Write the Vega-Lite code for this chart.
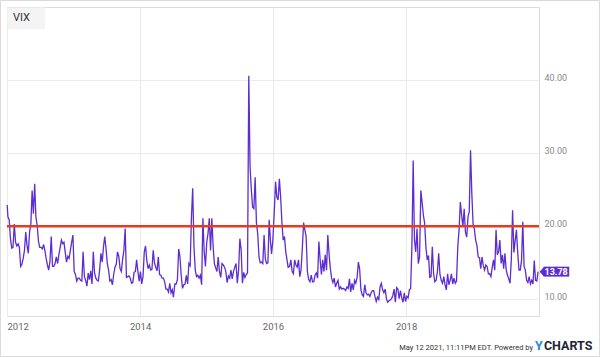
{
"$schema": "https://vega.github.io/schema/vega-lite/v6.json",
"width": 532, "height": 309,
"autosize": {"type": "none"},
"padding": {"left": 7, "top": 7, "right": 61, "bottom": 41},
"background": "white",
"config": {"view": {"stroke": "#dcdcdc", "strokeWidth": 1}, "font": "Roboto"},
"layer": [
{"data": {"values": [{}]}, "mark": {"type": "rect", "fillOpacity": 0, "stroke": "#d9d9d9", "strokeWidth": 1},
 "encoding": {"x": {"datum": {"year": 2011, "month": 11, "date": 26}, "type": "temporal"}, "x2": {"datum": {"year": 2020, "month": 11, "date": 28}},
  "y": {"datum": 50.89, "type": "quantitative"}, "y2": {"datum": 2.19}}},
{"data": {"values": [{}]}, "mark": {"type": "rect", "color": "#f4f4f4"},
 "encoding": {"x": {"datum": {"year": 2012, "month": 1, "date": 4}, "type": "temporal"}, "x2": {"datum": {"year": 2012, "month": 7, "date": 27}},
  "y": {"datum": 49.93, "type": "quantitative"}, "y2": {"datum": 46.99}}},
{"data": {"values": [{"label": "VIX"}]}, "mark": {"type": "text", "align": "left", "baseline": "middle", "fontSize": 11, "color": "#333333"},
 "encoding": {"x": {"datum": {"year": 2012, "month": 2, "date": 3}, "type": "temporal"}, "y": {"datum": 48.45, "type": "quantitative"}, "text": {"field": "label"}}},
{"data": {"values": [
{"d":"2012-01-02","v":22.9},{"d":"2012-01-06","v":21.3},{"d":"2012-01-13","v":20.9},{"d":"2012-01-20","v":18.3},{"d":"2012-01-27","v":17.0},{"d":"2012-02-03","v":17.1},{"d":"2012-02-10","v":20.3},{"d":"2012-02-17","v":17.8},{"d":"2012-02-24","v":17.3},{"d":"2012-03-02","v":17.6},{"d":"2012-03-09","v":17.1},{"d":"2012-03-16","v":14.5},{"d":"2012-03-23","v":14.8},{"d":"2012-03-30","v":15.6},{"d":"2012-04-06","v":16.7},{"d":"2012-04-13","v":19.2},{"d":"2012-04-20","v":17.4},{"d":"2012-04-27","v":16.3},{"d":"2012-05-04","v":19.2},{"d":"2012-05-11","v":20.3},{"d":"2012-05-18","v":24.9},{"d":"2012-05-25","v":21.7},{"d":"2012-06-01","v":25.8},{"d":"2012-06-08","v":21.2},{"d":"2012-06-15","v":20.1},{"d":"2012-06-22","v":17.9},{"d":"2012-06-29","v":17.1},{"d":"2012-07-06","v":17.1},{"d":"2012-07-13","v":16.9},{"d":"2012-07-20","v":17.5},{"d":"2012-07-27","v":16.7},{"d":"2012-08-03","v":15.6},{"d":"2012-08-10","v":14.7},{"d":"2012-08-17","v":14.0},{"d":"2012-08-24","v":15.2},{"d":"2012-08-31","v":18.6},{"d":"2012-09-07","v":14.5},{"d":"2012-09-14","v":14.5},{"d":"2012-09-21","v":14.9},{"d":"2012-09-28","v":15.8},{"d":"2012-10-05","v":14.9},{"d":"2012-10-12","v":16.1},{"d":"2012-10-19","v":17.1},{"d":"2012-10-26","v":18.1},{"d":"2012-11-02","v":17.6},{"d":"2012-11-09","v":17.8},{"d":"2012-11-16","v":16.4},{"d":"2012-11-23","v":15.1},{"d":"2012-11-30","v":15.9},{"d":"2012-12-07","v":15.6},{"d":"2012-12-14","v":16.7},{"d":"2012-12-21","v":17.8},{"d":"2012-12-28","v":18.8},
{"d":"2013-01-04","v":13.8},{"d":"2013-01-11","v":13.4},{"d":"2013-01-18","v":12.5},{"d":"2013-01-25","v":12.9},{"d":"2013-02-01","v":12.9},{"d":"2013-02-08","v":12.6},{"d":"2013-02-15","v":12.5},{"d":"2013-02-22","v":16.5},{"d":"2013-03-01","v":13.1},{"d":"2013-03-08","v":12.6},{"d":"2013-03-15","v":11.8},{"d":"2013-03-22","v":13.6},{"d":"2013-03-29","v":12.7},{"d":"2013-04-05","v":13.9},{"d":"2013-04-12","v":12.1},{"d":"2013-04-19","v":16.5},{"d":"2013-04-26","v":13.6},{"d":"2013-05-03","v":12.9},{"d":"2013-05-10","v":12.6},{"d":"2013-05-17","v":12.5},{"d":"2013-05-24","v":14.1},{"d":"2013-05-31","v":16.3},{"d":"2013-06-07","v":15.1},{"d":"2013-06-14","v":17.2},{"d":"2013-06-21","v":18.6},{"d":"2013-06-28","v":16.9},{"d":"2013-07-05","v":14.9},{"d":"2013-07-12","v":14.0},{"d":"2013-07-19","v":12.5},{"d":"2013-07-26","v":12.7},{"d":"2013-08-02","v":12.0},{"d":"2013-08-09","v":13.4},{"d":"2013-08-16","v":14.4},{"d":"2013-08-23","v":14.8},{"d":"2013-08-30","v":16.5},{"d":"2013-09-06","v":15.9},{"d":"2013-09-13","v":14.2},{"d":"2013-09-20","v":13.8},{"d":"2013-09-27","v":15.5},{"d":"2013-10-04","v":16.7},{"d":"2013-10-11","v":19.7},{"d":"2013-10-18","v":13.0},{"d":"2013-10-25","v":13.1},{"d":"2013-11-01","v":13.2},{"d":"2013-11-08","v":12.9},{"d":"2013-11-15","v":12.2},{"d":"2013-11-22","v":12.3},{"d":"2013-11-29","v":13.7},{"d":"2013-12-06","v":13.8},{"d":"2013-12-13","v":15.4},{"d":"2013-12-20","v":13.8},{"d":"2013-12-27","v":12.5},
{"d":"2014-01-03","v":13.8},{"d":"2014-01-10","v":12.1},{"d":"2014-01-17","v":13.1},{"d":"2014-01-24","v":16.5},{"d":"2014-01-31","v":17.3},{"d":"2014-02-07","v":15.3},{"d":"2014-02-14","v":14.2},{"d":"2014-02-21","v":14.7},{"d":"2014-02-28","v":14.0},{"d":"2014-03-07","v":14.1},{"d":"2014-03-14","v":16.7},{"d":"2014-03-21","v":15.0},{"d":"2014-03-28","v":14.4},{"d":"2014-04-04","v":13.9},{"d":"2014-04-11","v":15.8},{"d":"2014-04-18","v":13.4},{"d":"2014-04-25","v":13.3},{"d":"2014-05-02","v":12.9},{"d":"2014-05-09","v":12.9},{"d":"2014-05-16","v":12.4},{"d":"2014-05-23","v":11.4},{"d":"2014-05-30","v":11.4},{"d":"2014-06-06","v":11.0},{"d":"2014-06-13","v":12.2},{"d":"2014-06-20","v":10.9},{"d":"2014-06-27","v":11.3},{"d":"2014-07-03","v":10.3},{"d":"2014-07-11","v":12.1},{"d":"2014-07-18","v":12.1},{"d":"2014-07-25","v":12.7},{"d":"2014-08-01","v":16.9},{"d":"2014-08-08","v":15.8},{"d":"2014-08-15","v":13.2},{"d":"2014-08-22","v":11.5},{"d":"2014-08-29","v":12.0},{"d":"2014-09-05","v":12.1},{"d":"2014-09-12","v":13.3},{"d":"2014-09-19","v":12.1},{"d":"2014-09-26","v":14.9},{"d":"2014-10-03","v":14.6},{"d":"2014-10-10","v":21.2},{"d":"2014-10-17","v":25.2},{"d":"2014-10-24","v":17.2},{"d":"2014-10-31","v":14.0},{"d":"2014-11-07","v":13.1},{"d":"2014-11-14","v":13.3},{"d":"2014-11-21","v":12.9},{"d":"2014-11-28","v":13.3},{"d":"2014-12-05","v":12.0},{"d":"2014-12-12","v":21.1},{"d":"2014-12-19","v":16.5},{"d":"2014-12-26","v":14.5},
{"d":"2015-01-02","v":17.8},{"d":"2015-01-09","v":19.0},{"d":"2015-01-16","v":21.1},{"d":"2015-01-23","v":16.7},{"d":"2015-01-30","v":21.1},{"d":"2015-02-06","v":17.3},{"d":"2015-02-13","v":14.9},{"d":"2015-02-20","v":14.3},{"d":"2015-02-27","v":13.8},{"d":"2015-03-06","v":15.8},{"d":"2015-03-13","v":13.8},{"d":"2015-03-20","v":13.0},{"d":"2015-03-27","v":14.9},{"d":"2015-04-03","v":14.7},{"d":"2015-04-10","v":14.4},{"d":"2015-04-17","v":13.8},{"d":"2015-04-24","v":12.3},{"d":"2015-05-01","v":13.2},{"d":"2015-05-08","v":12.9},{"d":"2015-05-15","v":14.0},{"d":"2015-05-22","v":12.8},{"d":"2015-05-29","v":13.8},{"d":"2015-06-05","v":14.4},{"d":"2015-06-12","v":14.9},{"d":"2015-06-19","v":12.2},{"d":"2015-06-26","v":14.0},{"d":"2015-07-03","v":18.3},{"d":"2015-07-10","v":16.8},{"d":"2015-07-17","v":12.2},{"d":"2015-07-24","v":13.7},{"d":"2015-07-31","v":13.0},{"d":"2015-08-07","v":13.4},{"d":"2015-08-14","v":13.6},{"d":"2015-08-21","v":40.6},{"d":"2015-08-28","v":28.1},{"d":"2015-09-04","v":25.0},{"d":"2015-09-11","v":22.6},{"d":"2015-09-18","v":22.4},{"d":"2015-09-25","v":26.7},{"d":"2015-10-02","v":20.5},{"d":"2015-10-09","v":19.0},{"d":"2015-10-16","v":15.8},{"d":"2015-10-23","v":15.0},{"d":"2015-10-30","v":15.1},{"d":"2015-11-06","v":14.9},{"d":"2015-11-13","v":18.8},{"d":"2015-11-20","v":15.5},{"d":"2015-11-27","v":14.9},{"d":"2015-12-04","v":15.0},{"d":"2015-12-11","v":20.9},{"d":"2015-12-18","v":18.0},{"d":"2015-12-24","v":16.2},{"d":"2015-12-31","v":18.0},
{"d":"2016-01-08","v":22.0},{"d":"2016-01-15","v":26.1},{"d":"2016-01-22","v":24.0},{"d":"2016-01-29","v":23.6},{"d":"2016-02-05","v":26.5},{"d":"2016-02-12","v":24.0},{"d":"2016-02-19","v":20.5},{"d":"2016-02-26","v":18.1},{"d":"2016-03-04","v":18.6},{"d":"2016-03-11","v":16.5},{"d":"2016-03-18","v":15.4},{"d":"2016-03-24","v":14.4},{"d":"2016-04-01","v":14.5},{"d":"2016-04-08","v":15.4},{"d":"2016-04-15","v":13.8},{"d":"2016-04-22","v":13.5},{"d":"2016-04-29","v":15.4},{"d":"2016-05-06","v":14.7},{"d":"2016-05-13","v":14.4},{"d":"2016-05-20","v":15.4},{"d":"2016-05-27","v":13.1},{"d":"2016-06-03","v":14.0},{"d":"2016-06-10","v":17.0},{"d":"2016-06-17","v":20.5},{"d":"2016-06-24","v":19.5},{"d":"2016-07-01","v":18.6},{"d":"2016-07-08","v":13.8},{"d":"2016-07-15","v":12.7},{"d":"2016-07-22","v":12.4},{"d":"2016-07-29","v":13.3},{"d":"2016-08-05","v":12.4},{"d":"2016-08-12","v":12.4},{"d":"2016-08-19","v":13.3},{"d":"2016-08-26","v":13.6},{"d":"2016-09-02","v":12.9},{"d":"2016-09-09","v":17.9},{"d":"2016-09-16","v":15.4},{"d":"2016-09-23","v":13.4},{"d":"2016-09-30","v":15.4},{"d":"2016-10-07","v":13.8},{"d":"2016-10-14","v":16.1},{"d":"2016-10-21","v":14.0},{"d":"2016-10-28","v":18.8},{"d":"2016-11-04","v":16.2},{"d":"2016-11-11","v":14.2},{"d":"2016-11-18","v":12.9},{"d":"2016-11-25","v":12.3},{"d":"2016-12-02","v":12.9},{"d":"2016-12-09","v":11.7},{"d":"2016-12-16","v":12.2},{"d":"2016-12-23","v":12.6},{"d":"2016-12-30","v":11.4},
{"d":"2017-01-06","v":11.7},{"d":"2017-01-13","v":11.4},{"d":"2017-01-20","v":11.5},{"d":"2017-01-27","v":11.4},{"d":"2017-02-03","v":11.2},{"d":"2017-02-10","v":11.7},{"d":"2017-02-17","v":11.5},{"d":"2017-02-24","v":12.8},{"d":"2017-03-03","v":11.0},{"d":"2017-03-10","v":12.2},{"d":"2017-03-17","v":11.3},{"d":"2017-03-24","v":12.6},{"d":"2017-03-31","v":12.2},{"d":"2017-04-07","v":13.0},{"d":"2017-04-14","v":15.1},{"d":"2017-04-21","v":14.1},{"d":"2017-04-28","v":11.3},{"d":"2017-05-05","v":10.6},{"d":"2017-05-12","v":10.4},{"d":"2017-05-19","v":12.0},{"d":"2017-05-26","v":10.9},{"d":"2017-06-02","v":10.6},{"d":"2017-06-09","v":10.7},{"d":"2017-06-16","v":10.4},{"d":"2017-06-23","v":10.9},{"d":"2017-06-30","v":11.2},{"d":"2017-07-07","v":11.2},{"d":"2017-07-14","v":10.4},{"d":"2017-07-21","v":9.7},{"d":"2017-07-28","v":10.3},{"d":"2017-08-04","v":10.0},{"d":"2017-08-11","v":11.7},{"d":"2017-08-18","v":12.2},{"d":"2017-08-25","v":11.3},{"d":"2017-09-01","v":10.9},{"d":"2017-09-08","v":11.4},{"d":"2017-09-15","v":10.1},{"d":"2017-09-22","v":9.6},{"d":"2017-09-29","v":9.8},{"d":"2017-10-06","v":9.9},{"d":"2017-10-13","v":10.1},{"d":"2017-10-20","v":10.5},{"d":"2017-10-27","v":11.4},{"d":"2017-11-03","v":9.6},{"d":"2017-11-10","v":11.6},{"d":"2017-11-17","v":11.4},{"d":"2017-11-24","v":10.1},{"d":"2017-12-01","v":11.2},{"d":"2017-12-08","v":10.2},{"d":"2017-12-15","v":9.6},{"d":"2017-12-22","v":10.9},{"d":"2017-12-29","v":9.7},
{"d":"2018-01-05","v":10.4},{"d":"2018-01-12","v":10.2},{"d":"2018-01-19","v":11.3},{"d":"2018-01-26","v":11.5},{"d":"2018-02-02","v":17.3},{"d":"2018-02-09","v":29.0},{"d":"2018-02-16","v":18.1},{"d":"2018-02-23","v":16.5},{"d":"2018-03-02","v":19.7},{"d":"2018-03-09","v":14.9},{"d":"2018-03-16","v":15.8},{"d":"2018-03-23","v":24.9},{"d":"2018-03-29","v":23.5},{"d":"2018-04-06","v":21.5},{"d":"2018-04-13","v":20.4},{"d":"2018-04-20","v":17.1},{"d":"2018-04-27","v":15.4},{"d":"2018-05-04","v":16.0},{"d":"2018-05-11","v":13.0},{"d":"2018-05-18","v":13.1},{"d":"2018-05-25","v":17.2},{"d":"2018-06-01","v":13.5},{"d":"2018-06-08","v":12.4},{"d":"2018-06-15","v":12.6},{"d":"2018-06-22","v":13.8},{"d":"2018-06-29","v":16.3},{"d":"2018-07-06","v":13.4},{"d":"2018-07-13","v":12.6},{"d":"2018-07-20","v":12.2},{"d":"2018-07-27","v":13.1},{"d":"2018-08-03","v":12.0},{"d":"2018-08-10","v":11.3},{"d":"2018-08-17","v":13.5},{"d":"2018-08-24","v":12.0},{"d":"2018-08-31","v":12.6},{"d":"2018-09-07","v":13.5},{"d":"2018-09-14","v":12.1},{"d":"2018-09-21","v":12.9},{"d":"2018-09-28","v":12.2},{"d":"2018-10-05","v":12.5},{"d":"2018-10-12","v":17.2},{"d":"2018-10-19","v":19.5},{"d":"2018-10-26","v":23.3},{"d":"2018-11-02","v":21.5},{"d":"2018-11-09","v":19.9},{"d":"2018-11-16","v":22.4},{"d":"2018-11-23","v":19.2},{"d":"2018-11-30","v":18.5},{"d":"2018-12-07","v":21.3},{"d":"2018-12-14","v":22.0},{"d":"2018-12-21","v":30.4},{"d":"2018-12-28","v":24.5},
{"d":"2019-01-04","v":20.3},{"d":"2019-01-11","v":19.6},{"d":"2019-01-18","v":18.1},{"d":"2019-01-25","v":17.4},{"d":"2019-02-01","v":15.8},{"d":"2019-02-08","v":15.7},{"d":"2019-02-15","v":14.2},{"d":"2019-02-22","v":15.8},{"d":"2019-03-01","v":14.6},{"d":"2019-03-08","v":14.0},{"d":"2019-03-15","v":14.7},{"d":"2019-03-22","v":14.5},{"d":"2019-03-29","v":13.5},{"d":"2019-04-05","v":13.5},{"d":"2019-04-12","v":13.1},{"d":"2019-04-18","v":14.2},{"d":"2019-04-26","v":15.4},{"d":"2019-05-03","v":14.0},{"d":"2019-05-10","v":19.5},{"d":"2019-05-17","v":16.1},{"d":"2019-05-24","v":16.5},{"d":"2019-05-31","v":18.1},{"d":"2019-06-07","v":14.9},{"d":"2019-06-14","v":16.1},{"d":"2019-06-21","v":14.2},{"d":"2019-06-28","v":16.3},{"d":"2019-07-05","v":14.0},{"d":"2019-07-12","v":13.3},{"d":"2019-07-19","v":12.8},{"d":"2019-07-26","v":12.2},{"d":"2019-08-02","v":15.5},{"d":"2019-08-09","v":22.2},{"d":"2019-08-16","v":16.4},{"d":"2019-08-23","v":18.0},{"d":"2019-08-30","v":19.5},{"d":"2019-09-06","v":16.4},{"d":"2019-09-13","v":14.0},{"d":"2019-09-20","v":14.0},{"d":"2019-09-27","v":15.3},{"d":"2019-10-04","v":20.6},{"d":"2019-10-11","v":14.5},{"d":"2019-10-18","v":14.0},{"d":"2019-10-25","v":12.6},{"d":"2019-11-01","v":12.3},{"d":"2019-11-08","v":13.1},{"d":"2019-11-15","v":12.1},{"d":"2019-11-22","v":12.6},{"d":"2019-11-29","v":12.1},{"d":"2019-12-06","v":15.3},{"d":"2019-12-13","v":12.6},{"d":"2019-12-20","v":12.5},{"d":"2019-12-27","v":13.78}
]},
 "mark": {"type": "line", "color": "#5c2dd0", "strokeWidth": 1.3},
 "encoding": {
  "x": {"field": "d", "type": "temporal", "title": null,
   "scale": {"domain": [{"year": 2012, "month": 1, "date": 1}, {"year": 2020, "month": 1, "date": 1}]},
   "axis": {"values": [{"year": 2012, "month": 1, "date": 1}, {"year": 2014, "month": 1, "date": 1}, {"year": 2016, "month": 1, "date": 1}, {"year": 2018, "month": 1, "date": 1}],
    "format": "%Y", "labelFlush": true, "ticks": false, "domain": false, "grid": true, "gridColor": "#ebebeb",
    "labelColor": "#666666", "labelFontSize": 9.5, "labelPadding": 5}},
  "y": {"field": "v", "type": "quantitative", "title": null,
   "scale": {"domain": [7.72, 50], "nice": false, "zero": false},
   "axis": {"orient": "right", "values": [10, 20, 30, 40], "format": ".2f", "ticks": false, "domain": false, "grid": true, "gridColor": "#ebebeb",
    "labelColor": "#8a8a8a", "labelFontSize": 9, "labelPadding": 5, "labelBaseline": "alphabetic"}}
 }},
{"data": {"values": [{}]}, "mark": {"type": "rule", "color": "#ea3a1e", "strokeWidth": 2.6},
 "encoding": {"y": {"datum": 20, "type": "quantitative"}}},
{"data": {"values": [{}]}, "mark": {"type": "point", "shape": "M0.45,-1L-0.45,0L0.45,1Z", "size": 100, "filled": true, "opacity": 1, "color": "#5c2dd0"},
 "encoding": {"x": {"datum": {"year": 2020, "month": 1, "date": 17}, "type": "temporal"}, "y": {"datum": 13.78, "type": "quantitative"}}},
{"data": {"values": [{}]}, "mark": {"type": "rect", "color": "#5c2dd0"},
 "encoding": {"x": {"datum": {"year": 2020, "month": 1, "date": 26}, "type": "temporal"}, "x2": {"datum": {"year": 2020, "month": 6, "date": 15}},
  "y": {"datum": 14.47, "type": "quantitative"}, "y2": {"datum": 13.11}}},
{"data": {"values": [{"label": "13.78"}]}, "mark": {"type": "text", "align": "center", "baseline": "middle", "fontSize": 9, "fontWeight": "bold", "color": "white"},
 "encoding": {"x": {"datum": {"year": 2020, "month": 4, "date": 4}, "type": "temporal"}, "y": {"datum": 13.78, "type": "quantitative"}, "text": {"field": "label"}}},
{"data": {"values": [{"label": "May 12 2021, 11:11PM EDT.  Powered by"}]}, "mark": {"type": "text", "align": "right", "baseline": "alphabetic", "fontSize": 7.5, "color": "#333333"},
 "encoding": {"x": {"datum": {"year": 2019, "month": 11, "date": 29}, "type": "temporal"}, "y": {"datum": 3.01, "type": "quantitative"}, "text": {"field": "label"}}},
{"data": {"values": [{"label": "Y"}]}, "mark": {"type": "text", "align": "left", "baseline": "alphabetic", "fontSize": 12.5, "fontWeight": "bold", "color": "#1e88e5"},
 "encoding": {"x": {"datum": {"year": 2019, "month": 12, "date": 10}, "type": "temporal"}, "y": {"datum": 3.01, "type": "quantitative"}, "text": {"field": "label"}}},
{"data": {"values": [{"label": "CHARTS"}]}, "mark": {"type": "text", "align": "left", "baseline": "alphabetic", "fontSize": 12.5, "fontWeight": "bold", "color": "#1d2733"},
 "encoding": {"x": {"datum": {"year": 2020, "month": 1, "date": 28}, "type": "temporal"}, "y": {"datum": 3.01, "type": "quantitative"}, "text": {"field": "label"}}}
]
}
